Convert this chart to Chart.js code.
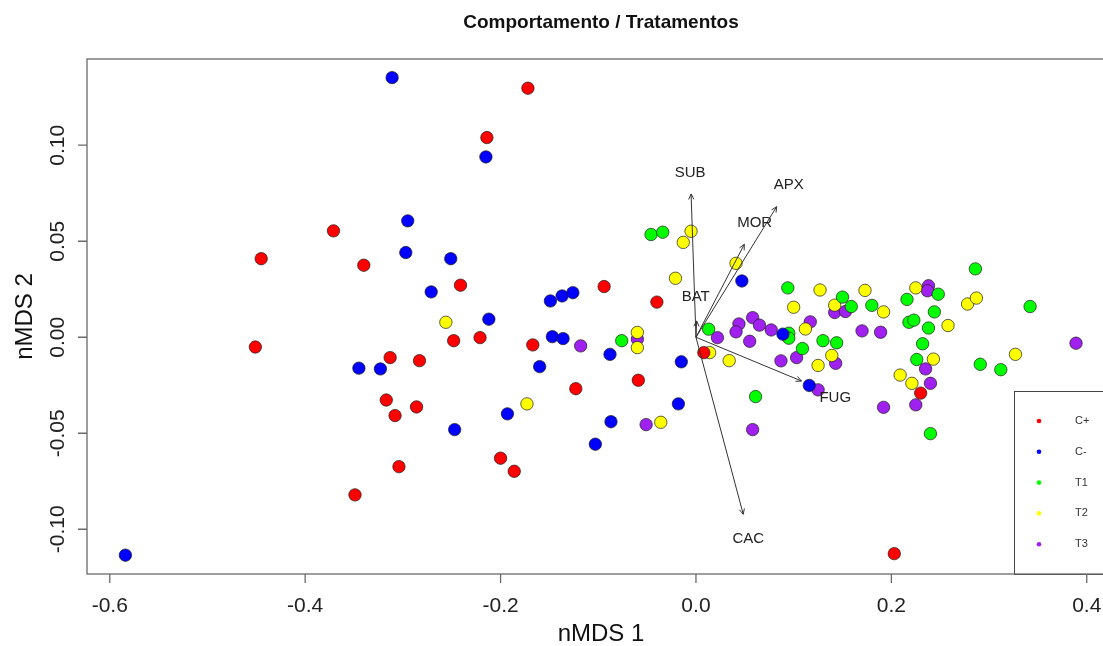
<!DOCTYPE html>
<html>
<head>
<meta charset="utf-8">
<title>Comportamento / Tratamentos</title>
<script src="https://cdn.jsdelivr.net/npm/chart.js@4.4.1/dist/chart.umd.min.js"></script>
<style>
  html, body { margin: 0; padding: 0; background: #fff; overflow: hidden; }
</style>
</head>
<body>
<canvas id="chart" width="1130" height="646"></canvas>
<script>
// nMDS scores, one pair of arrays per treatment
const groups = ['C+', 'C-', 'T1', 'T2', 'T3'];
const groupColors = ['#FF0000', '#0000FF', '#00FF00', '#FFFF00', '#A020F0'];

const cPlusX = [-0.172, -0.214, -0.371, -0.445, -0.340, -0.241, -0.094, -0.040, -0.248, -0.221, -0.167, -0.451, -0.313,
  -0.283, 0.008, -0.059, -0.123, -0.317, -0.286, -0.308, 0.230, -0.200, -0.186, -0.304, -0.349, 0.203];
const cPlusY = [0.1297, 0.1040, 0.0554, 0.0409, 0.0375, 0.0271, 0.0264, 0.0183, -0.0018, -0.0002, -0.0040, -0.0051, -0.0106,
  -0.0122, -0.0080, -0.0224, -0.0268, -0.0327, -0.0363, -0.0408, -0.0291, -0.0630, -0.0698, -0.0674, -0.0821, -0.1127];

const cMinusX = [-0.311, -0.215, -0.295, -0.297, -0.251, -0.271, -0.149, -0.137, -0.126, -0.212, 0.047, -0.147, -0.136,
  -0.088, -0.015, -0.160, -0.345, -0.323, 0.089, 0.116, -0.018, -0.193, -0.087, -0.247, -0.103, -0.584];
const cMinusY = [0.1352, 0.0939, 0.0606, 0.0441, 0.0409, 0.0236, 0.0189, 0.0215, 0.0232, 0.0094, 0.0293, 0.0003, -0.0007,
  -0.0089, -0.0128, -0.0153, -0.0161, -0.0165, 0.0016, -0.0251, -0.0347, -0.0399, -0.0440, -0.0481, -0.0557, -0.1135];

const t1X = [-0.046, -0.034, -0.076, 0.013, 0.094, 0.150, 0.159, 0.180, 0.216, 0.248, 0.244, 0.218, 0.223, 0.238,
  0.232, 0.095, 0.095, 0.109, 0.130, 0.144, 0.226, 0.061, 0.240, 0.286, 0.342, 0.291, 0.312];
const t1Y = [0.0535, 0.0547, -0.0018, 0.0042, 0.0257, 0.0209, 0.0160, 0.0166, 0.0197, 0.0224, 0.0132, 0.0078, 0.0089, 0.0048,
  -0.0034, 0.0021, -0.0005, -0.0059, -0.0018, -0.0029, -0.0116, -0.0309, -0.0502, 0.0356, 0.0160, -0.0141, -0.0169];

const t2X = [-0.005, -0.013, -0.021, 0.041, -0.256, -0.060, -0.060, 0.014, 0.034, -0.173, -0.036, 0.127, 0.100, 0.142,
  0.173, 0.192, 0.225, 0.112, 0.258, 0.125, 0.139, 0.243, 0.209, 0.221, 0.278, 0.287, 0.327];
const t2Y = [0.0552, 0.0494, 0.0307, 0.0385, 0.0078, 0.0025, -0.0054, -0.0080, -0.0122, -0.0347, -0.0443, 0.0246, 0.0156, 0.0167,
  0.0244, 0.0132, 0.0257, 0.0043, 0.0061, -0.0147, -0.0095, -0.0114, -0.0197, -0.0240, 0.0173, 0.0204, -0.0089];

const t3X = [-0.118, -0.060, 0.022, -0.051, 0.058, 0.044, 0.065, 0.041, 0.077, 0.117, 0.055, 0.142, 0.153, 0.170,
  0.189, 0.238, 0.237, 0.087, 0.103, 0.143, 0.235, 0.240, 0.125, 0.192, 0.225, 0.058, 0.389];
const t3Y = [-0.0045, -0.0010, -0.0002, -0.0455, 0.0102, 0.0069, 0.0063, 0.0028, 0.0038, 0.0080, -0.0021, 0.0129, 0.0134, 0.0033,
  0.0026, 0.0268, 0.0242, -0.0123, -0.0106, -0.0136, -0.0165, -0.0240, -0.0274, -0.0365, -0.0352, -0.0481, -0.0031];

const groupX = [cPlusX, cMinusX, t1X, t2X, t3X];
const groupY = [cPlusY, cMinusY, t1Y, t2Y, t3Y];

// fitted behaviour vectors (arrow tips) and where their names sit
const vectorNames = ['SUB', 'APX', 'MOR', 'BAT', 'FUG', 'CAC'];
const vectorX = [-0.005, 0.0826, 0.0495, 0.0007, 0.108, 0.0484];
const vectorY = [0.0746, 0.068, 0.0484, 0.0085, -0.0228, -0.0922];
const vectorLabelX = [-0.006, 0.0949, 0.0601, -0.0003, 0.1426, 0.0535];
const vectorLabelY = [0.0854, 0.0792, 0.0597, 0.0211, -0.0318, -0.1049];

const xTicks = [-0.6, -0.4, -0.2, 0.0, 0.2, 0.4];
const xTickLabels = ['-0.6', '-0.4', '-0.2', '0.0', '0.2', '0.4'];
const yTicks = [-0.10, -0.05, 0.00, 0.05, 0.10];
const yTickLabels = ['-0.10', '-0.05', '0.00', '0.05', '0.10'];

const FONT = '"Liberation Sans", Arial, sans-serif';

const datasets = groups.map((g, i) => ({
    label: g,
    data: groupX[i].map((x, j) => ({ x: x, y: groupY[i][j] })),
    backgroundColor: groupColors[i],
    borderColor: 'rgba(30,30,30,0.7)',
    borderWidth: 1,
    pointRadius: 6.2,
    pointHoverRadius: 6.2
}));

function text(ctx, str, x, y, font, rotate) {
    ctx.save();
    ctx.translate(x, y);
    if (rotate) ctx.rotate(-Math.PI / 2);
    ctx.font = font;
    ctx.textAlign = 'center';
    ctx.textBaseline = 'middle';
    ctx.fillText(str, 0, 0);
    ctx.restore();
}

const rPlot = {
    id: 'rPlot',
    afterDatasetsDraw(chart) {
        const { ctx, chartArea: a, scales: { x, y } } = chart;
        ctx.save();

        // arrows from the origin
        const ox = x.getPixelForValue(0), oy = y.getPixelForValue(0);
        ctx.strokeStyle = '#333';
        ctx.lineWidth = 1;
        ctx.fillStyle = '#222';
        vectorNames.forEach((name, i) => {
            const tx = x.getPixelForValue(vectorX[i]);
            const ty = y.getPixelForValue(vectorY[i]);
            const ang = Math.atan2(ty - oy, tx - ox);
            ctx.beginPath();
            ctx.moveTo(ox, oy);
            ctx.lineTo(tx, ty);
            ctx.stroke();
            ctx.beginPath();
            ctx.moveTo(tx - 6 * Math.cos(ang - 0.45), ty - 6 * Math.sin(ang - 0.45));
            ctx.lineTo(tx, ty);
            ctx.lineTo(tx - 6 * Math.cos(ang + 0.45), ty - 6 * Math.sin(ang + 0.45));
            ctx.stroke();
            text(ctx, name, x.getPixelForValue(vectorLabelX[i]), y.getPixelForValue(vectorLabelY[i]), '15px ' + FONT);
        });

        // legend box in the lower right corner
        const lx = a.right - 101, ly = a.bottom - 183;
        ctx.fillStyle = '#fff';
        ctx.fillRect(lx, ly, a.right - lx, a.bottom - ly);
        ctx.strokeStyle = '#444';
        ctx.strokeRect(lx + 0.5, ly + 0.5, a.right - lx, a.bottom - ly);
        groups.forEach((g, i) => {
            const ry = ly + 30 + i * 30.8;
            ctx.fillStyle = groupColors[i];
            ctx.beginPath();
            ctx.arc(lx + 25, ry, 2.3, 0, Math.PI * 2);
            ctx.fill();
            ctx.fillStyle = '#333';
            ctx.font = '11px ' + FONT;
            ctx.textAlign = 'left';
            ctx.textBaseline = 'middle';
            ctx.fillText(g, lx + 61, ry);
        });
        ctx.restore();
    },
    afterDraw(chart) {
        const { ctx, chartArea: a, scales: { x, y } } = chart;
        ctx.save();
        ctx.strokeStyle = '#6a6a6a';
        ctx.lineWidth = 1.3;
        ctx.strokeRect(a.left, a.top, a.right - a.left, a.bottom - a.top);

        ctx.fillStyle = '#222';
        ctx.beginPath();
        xTicks.forEach((v, i) => {
            const px = x.getPixelForValue(v);
            ctx.moveTo(px, a.bottom);
            ctx.lineTo(px, a.bottom + 9);
            text(ctx, xTickLabels[i], px, a.bottom + 32, '21px ' + FONT);
        });
        yTicks.forEach((v, i) => {
            const py = y.getPixelForValue(v);
            ctx.moveTo(a.left, py);
            ctx.lineTo(a.left - 9, py);
            text(ctx, yTickLabels[i], a.left - 29, py, '21px ' + FONT, true);
        });
        ctx.stroke();

        ctx.fillStyle = '#111';
        text(ctx, 'nMDS 1', (a.left + a.right) / 2, a.bottom + 60, '24px ' + FONT);
        text(ctx, 'nMDS 2', 25, (a.top + a.bottom) / 2, '24px ' + FONT, true);
        text(ctx, 'Comportamento / Tratamentos', (a.left + a.right) / 2, 23, 'bold 19px ' + FONT);
        ctx.restore();
    }
};

new Chart(document.getElementById('chart'), {
    type: 'scatter',
    data: { datasets: datasets },
    options: {
        responsive: false,
        animation: false,
        layout: { padding: { top: 59, right: 15, left: 0, bottom: 0 } },
        plugins: { legend: { display: false }, title: { display: false }, tooltip: { enabled: false } },
        scales: {
            x: {
                type: 'linear', min: -0.6233, max: 0.4289,
                grid: { display: false }, border: { display: false },
                ticks: { display: false },
                afterFit: s => { s.height = 72; }
            },
            y: {
                type: 'linear', min: -0.1233, max: 0.1449,
                grid: { display: false }, border: { display: false },
                ticks: { display: false },
                afterFit: s => { s.width = 87; }
            }
        }
    },
    plugins: [rPlot]
});
</script>
</body>
</html>
